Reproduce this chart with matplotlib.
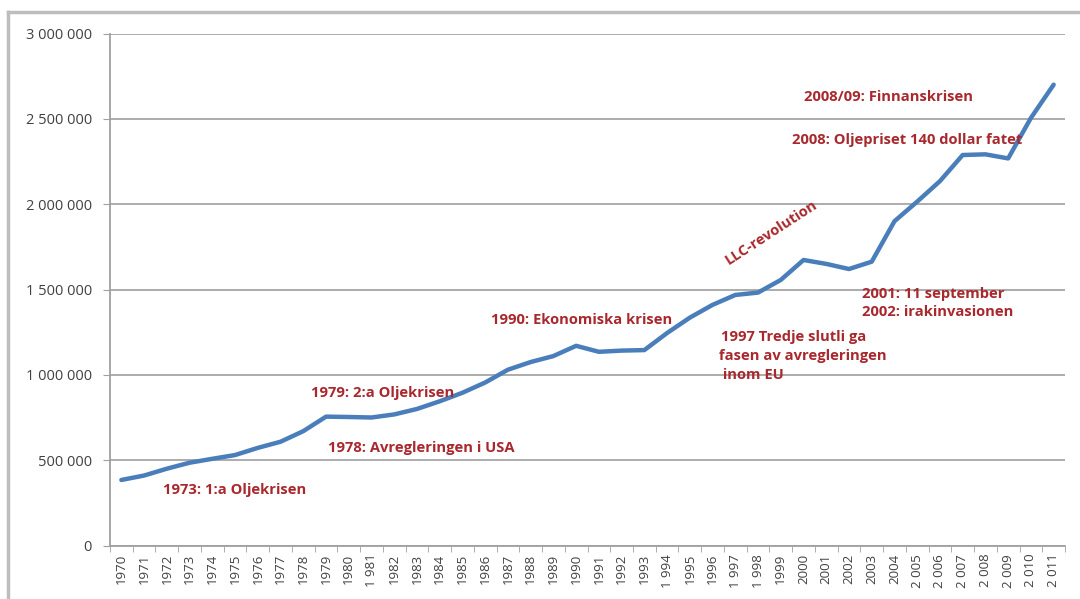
import matplotlib
matplotlib.use("Agg")
import matplotlib.pyplot as plt
from matplotlib.lines import Line2D
import numpy as np

# Passengers per year, 1970-2011
years = [
    "1970", "1971", "1972", "1973", "1974", "1975", "1976", "1977", "1978", "1979",
    "1980", "1 981", "1982", "1983", "1984", "1985", "1986", "1987", "1988", "1989",
    "1990", "1991", "1992", "1993", "1 994", "1995", "1996", "1 997", "1 998", "1999",
    "2000", "2001", "2002", "2003", "2004", "2 005", "2 006", "2 007", "2 008", "2 009",
    "2 010", "2 011",
]
passengers = [
    384000, 410000, 450000, 485000, 508000, 530000, 572000, 608000, 670000, 755000,
    753000, 750000, 768000, 800000, 845000, 895000, 955000, 1030000, 1075000, 1110000,
    1170000, 1135000, 1142000, 1145000, 1245000, 1335000, 1410000, 1468000, 1482000, 1556000,
    1673000, 1650000, 1620000, 1663000, 1900000, 2015000, 2135000, 2288000, 2292000, 2268000,
    2505000, 2700000,
]
y_ticks = [0, 500000, 1000000, 1500000, 2000000, 2500000, 3000000]

# Event annotations: (text, x-pixel, y-pixel)
events = [
    ("1973: 1:a Oljekrisen", 163, 490),
    ("1979: 2:a Oljekrisen", 311, 393),
    ("1978: Avregleringen i USA", 328, 448),
    ("1990: Ekonomiska krisen", 491, 320),
    ("1997 Tredje slutli ga", 721, 337),
    ("fasen av avregleringen", 719, 356),
    (" inom EU", 719, 375),
    ("2001: 11 september", 862, 294),
    ("2002: irakinvasionen", 862, 312),
    ("2008/09: Finnanskrisen", 804, 97),
    ("2008: Oljepriset 140 dollar fatet", 792, 140),
]
llc_label = "LLC-revolution"

W, H = 1080, 599
fig = plt.figure(figsize=(W / 100, H / 100), dpi=100)
fig.patch.set_facecolor("white")

ax = fig.add_axes([110 / W, 1 - 545.5 / H, (1065 - 110) / W, (545.5 - 33.5) / H])
x = np.arange(len(years))
ax.plot(x, passengers, color="#4A7EBB", lw=3.2, solid_joinstyle="round",
        solid_capstyle="round", zorder=4)

ax.set_xlim(-0.5, len(years) - 0.5)
ax.set_ylim(0, 3000000)
ax.set_yticks(y_ticks)
ax.set_yticklabels([f"{v:,}".replace(",", " ") for v in y_ticks])
ax.set_xticks(x)
ax.set_xticklabels(years, rotation=90)
ax.set_xticks(np.arange(-0.5, len(years), 1), minor=True)

ax.grid(axis="y", color="#A6A6A6", lw=1.3, zorder=0)
ax.set_axisbelow(True)
for s in ["top", "right"]:
    ax.spines[s].set_visible(False)
for s in ["left", "bottom"]:
    ax.spines[s].set_color("#A0A0A0")
    ax.spines[s].set_linewidth(1.3)

ax.tick_params(axis="y", length=5, color="#A0A0A0", labelsize=10.5,
               labelcolor="#404040", pad=8)
ax.tick_params(axis="x", which="major", length=0, labelsize=9.5,
               labelcolor="#404040", pad=6)
ax.tick_params(axis="x", which="minor", length=4, color="#A0A0A0")
for lab in ax.get_yticklabels() + ax.get_xticklabels():
    lab.set_family(["Open Sans", "DejaVu Sans"])

red = "#A8282D"
for text, px, py in events:
    fig.text(px / W, 1 - py / H, text, color=red, fontsize=10.6,
             fontweight="bold", family=["Open Sans", "DejaVu Sans"],
             ha="left", va="center", zorder=3)
fig.text(771 / W, 1 - 233 / H, llc_label, color=red, fontsize=10.6,
         fontweight="bold", family=["Open Sans", "DejaVu Sans"],
         ha="center", va="center", rotation=33, zorder=3)

# Frame edges along the top and left of the image
fig.add_artist(Line2D([8 / W, 8 / W], [0, 1 - 12 / H], color="#BDBDBD", lw=2.5))
fig.add_artist(Line2D([8 / W, 1], [1 - 12 / H, 1 - 12 / H], color="#BDBDBD", lw=2.5))

fig.savefig("out.png", dpi=100, facecolor="white")
